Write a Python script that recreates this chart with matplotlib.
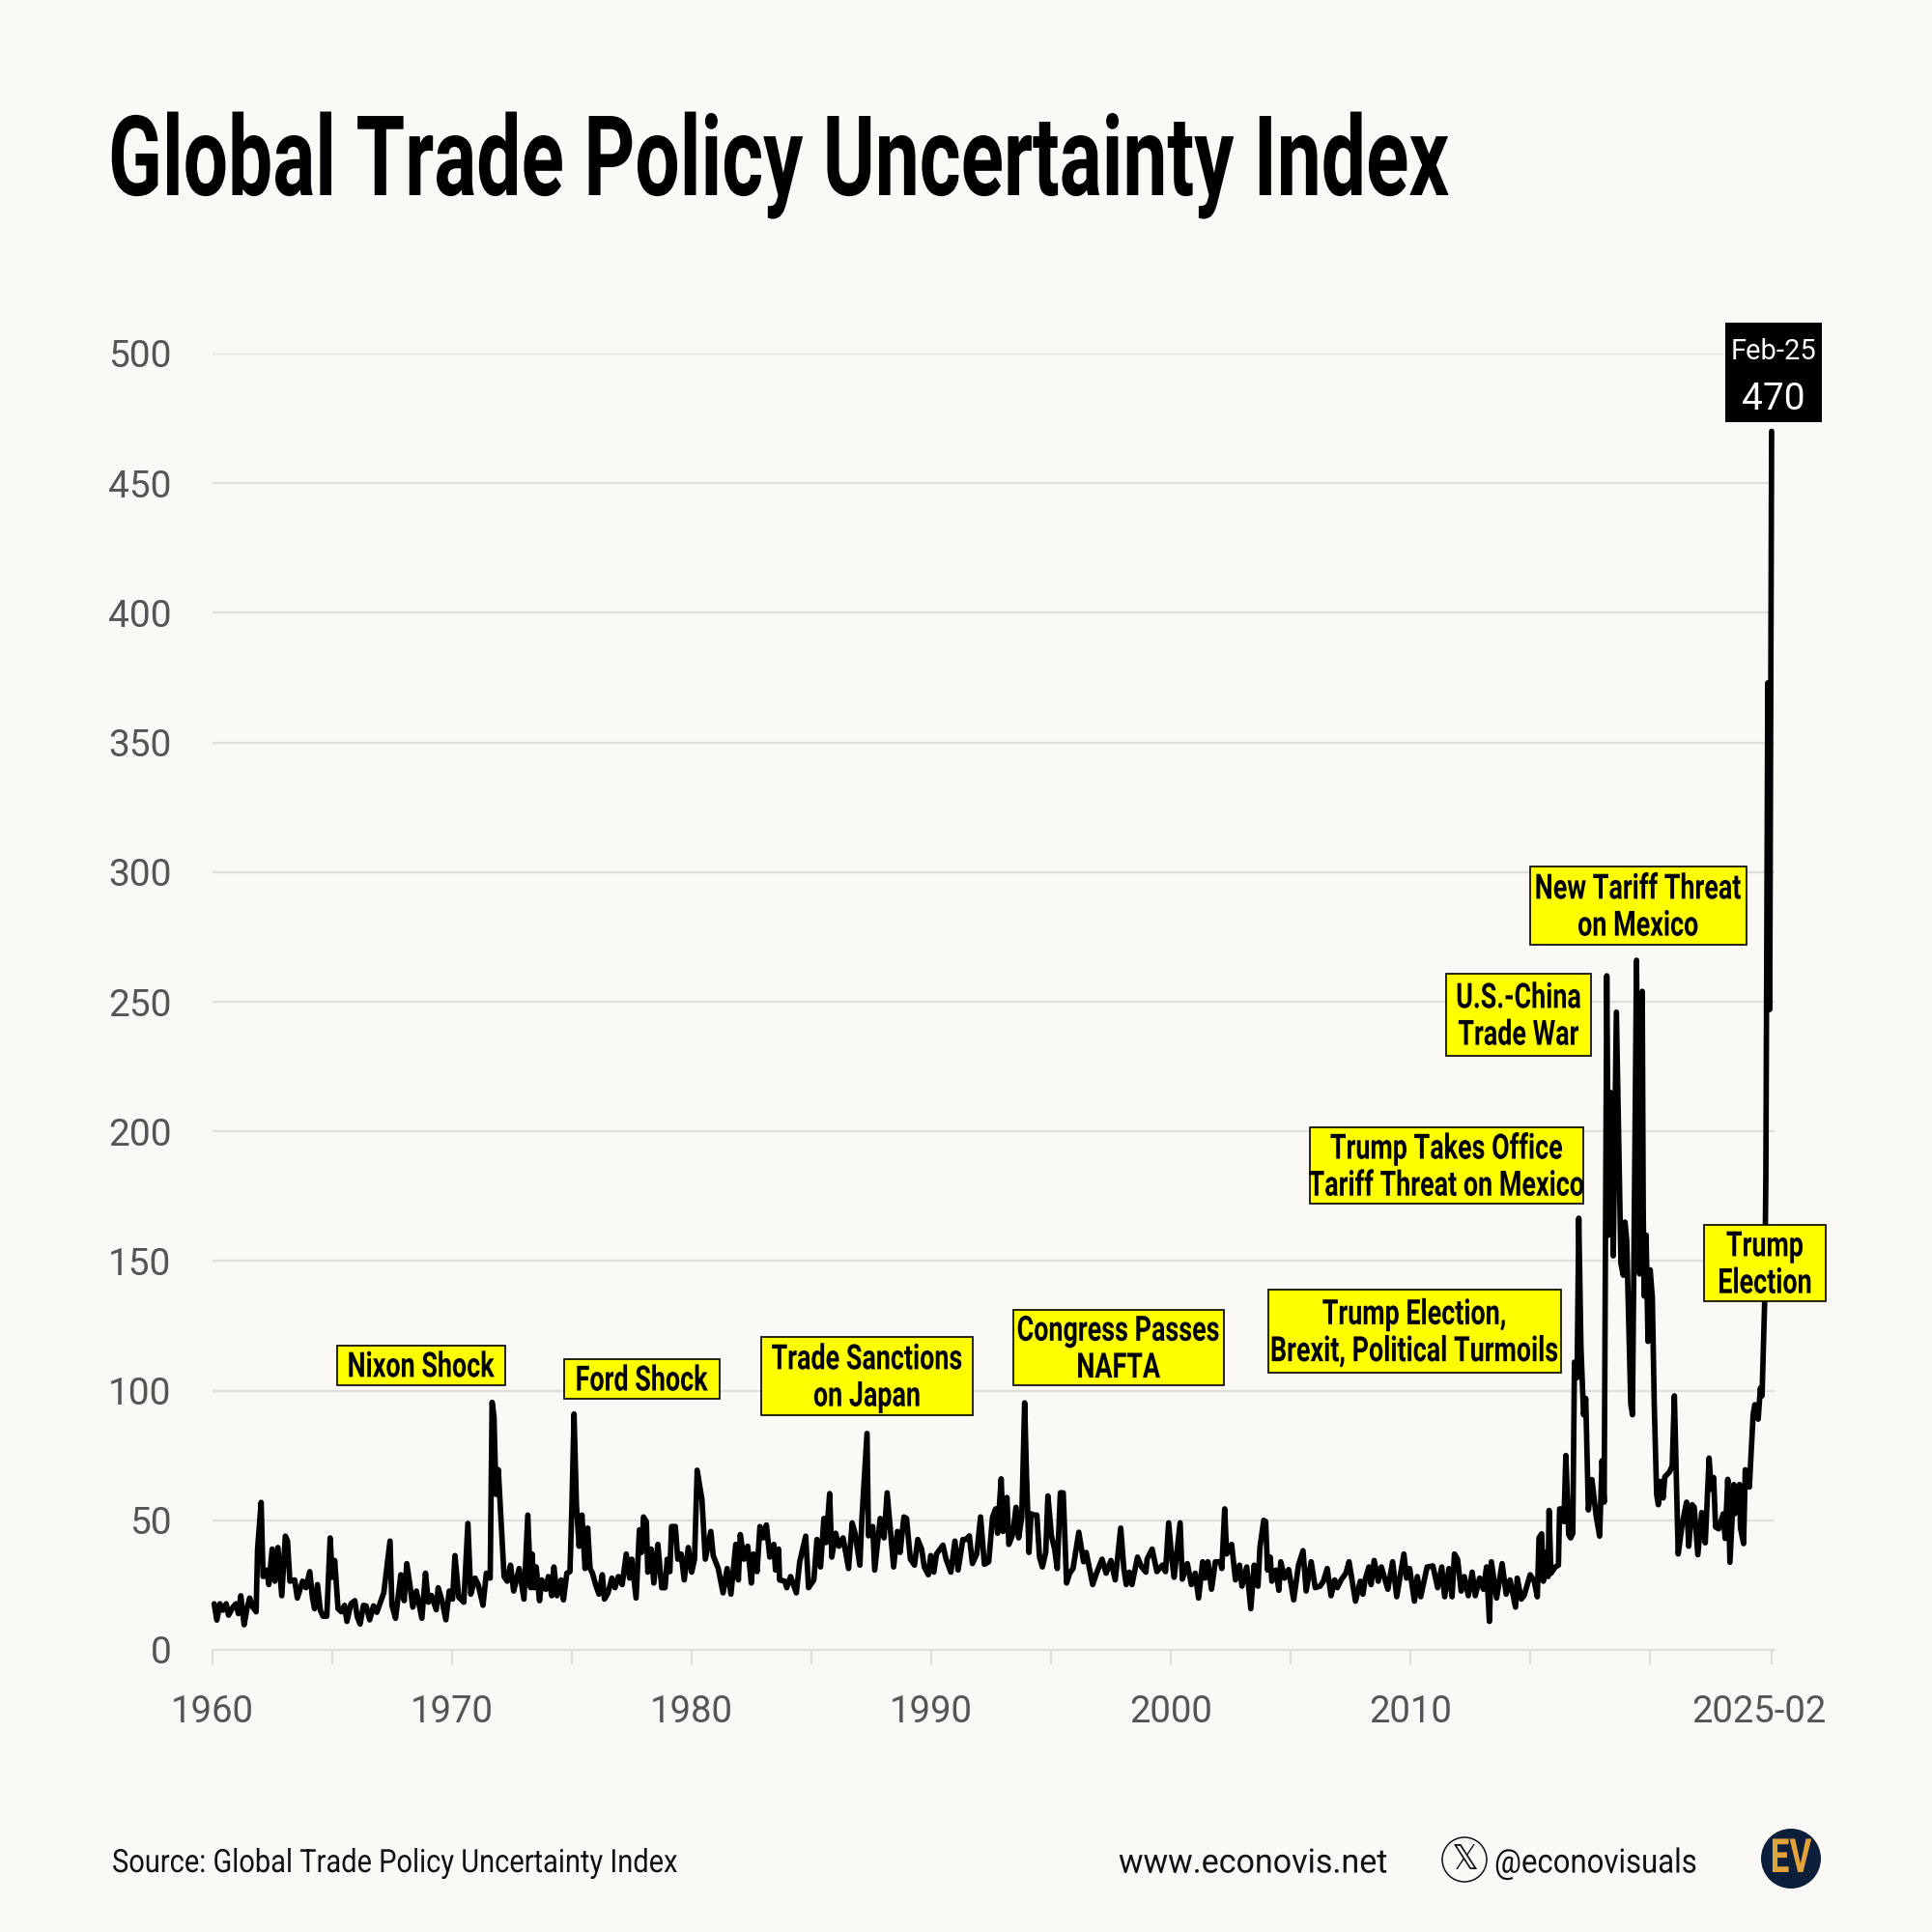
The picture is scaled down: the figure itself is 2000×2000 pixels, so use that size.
import numpy as np
import matplotlib
matplotlib.use("Agg")
import matplotlib.pyplot as plt
from matplotlib.patches import Rectangle, Circle
from matplotlib.patheffects import AbstractPathEffect
from matplotlib.transforms import Affine2D, ScaledTranslation

TITLE = "Global Trade Policy Uncertainty Index"
SOURCE = "Source: Global Trade Policy Uncertainty Index"

y_1960s = [1960.07,1960.18,1960.31,1960.43,1960.57,1960.67,1960.85,1960.98,1961.08,1961.18,1961.32,1961.44,1961.55,1961.68,1961.82,1961.88,1962.03,1962.11,1962.26,1962.35,1962.49,1962.60,1962.73,1962.89,1963.04,1963.13,1963.23,1963.43,1963.54,1963.76,1963.90,1964.06,1964.17,1964.26,1964.38,1964.50,1964.61,1964.77,1964.91,1965.00,1965.10,1965.24,1965.38,1965.51,1965.61,1965.78,1965.94,1966.04,1966.16,1966.30,1966.41,1966.56,1966.72,1966.86,1967.15,1967.41,1967.49,1967.64,1967.86,1968.00,1968.11,1968.24,1968.36,1968.51,1968.74,1968.89,1969.01,1969.14,1969.34,1969.42,1969.58,1969.74,1969.88]
v_1960s = [17.8,11.5,17.8,15.3,17.8,13.4,16.5,17.8,14,20.9,9.7,16,20,16.5,14.7,38.9,56.9,28.3,30.8,25.2,38.9,26.5,39.5,20.9,43.9,42,26.5,27,20,26.5,24,30.2,20.2,15.9,25.2,15.3,13,13,43.2,28,34.5,15.9,14.7,17.2,11,17.8,19,12.8,10,17.2,17,11.6,17,14.5,22.1,42,17.2,12.2,29,19,33.3,25,16.5,22.7,12.2,29.6,18.4,21,15.5,24,19,11.6,22.7]

y_1970s = [1970.02,1970.12,1970.28,1970.49,1970.66,1970.78,1970.96,1971.09,1971.29,1971.43,1971.59,1971.67,1971.75,1971.83,1971.93,1972.17,1972.30,1972.44,1972.57,1972.80,1973.00,1973.16,1973.28,1973.34,1973.42,1973.51,1973.65,1973.74,1973.91,1974.02,1974.16,1974.25,1974.38,1974.55,1974.65,1974.79,1974.92,1975.00,1975.09,1975.19,1975.30,1975.42,1975.55,1975.66,1975.76,1975.86,1975.99,1976.13,1976.27,1976.36,1976.51,1976.67,1976.80,1976.94,1977.10,1977.27,1977.41,1977.50,1977.68,1977.82,1977.91,1977.99,1978.11,1978.17,1978.31,1978.42,1978.59,1978.75,1978.89,1978.98,1979.09,1979.16,1979.32,1979.42,1979.56,1979.69,1979.86]
v_1970s = [19.6,36.4,20.3,18.4,48.8,21.5,27.7,25.2,17.2,29.6,27.7,95.5,90,60,69.5,28.3,26.5,32.7,22.7,31.4,19.6,52,24,37,24,32,19,27,23.4,28.3,20.9,32,20.9,27,19.3,29.6,30.2,55,91,56,40,52,31.4,47,31.4,29.6,25.2,21.5,29,19.6,22,27.7,24,28.3,25.2,37,27.7,35,20,46.3,37.6,51.3,49.5,30,38.9,25.8,40.7,24,24,35,30.2,47.6,47.6,35,37,27,39.5]

y_1980s = [1980.00,1980.12,1980.23,1980.43,1980.57,1980.80,1980.90,1981.11,1981.31,1981.48,1981.64,1981.84,1981.95,1982.03,1982.18,1982.34,1982.49,1982.58,1982.73,1982.85,1982.99,1983.12,1983.26,1983.43,1983.50,1983.63,1983.67,1983.89,1983.97,1984.13,1984.37,1984.51,1984.76,1984.88,1985.10,1985.23,1985.38,1985.52,1985.61,1985.76,1985.85,1986.01,1986.15,1986.32,1986.55,1986.70,1986.82,1987.02,1987.11,1987.32,1987.38,1987.56,1987.64,1987.87,1988.03,1988.16,1988.43,1988.59,1988.70,1988.86,1988.97,1989.13,1989.30,1989.44,1989.60,1989.71,1989.88,1989.98]
v_1980s = [30,35,69.3,58,35,45.7,36.4,31.4,22,31.4,21.5,40.7,27,44.5,35,40,25.8,37,30.2,47.6,43.2,48.2,35.8,40.7,30.8,38.9,27,26.5,24,28.3,22,34,43.9,24,27,42.6,32,50.7,41.4,60.3,35.8,45,40,43.2,31.4,49,45,32.7,51.3,83.5,44,47.6,30.8,50.7,43.2,60.6,32,45.7,37.6,51.3,50.7,35,32.7,42.6,38.9,32,29,36.4]

y_1990s = [1990.11,1990.22,1990.49,1990.62,1990.82,1990.99,1991.12,1991.32,1991.45,1991.59,1991.72,1991.90,1992.06,1992.22,1992.40,1992.56,1992.69,1992.77,1992.92,1993.00,1993.16,1993.24,1993.40,1993.54,1993.65,1993.78,1993.90,1993.97,1994.08,1994.17,1994.31,1994.41,1994.52,1994.64,1994.78,1994.87,1995.02,1995.15,1995.26,1995.39,1995.51,1995.65,1995.78,1995.92,1996.16,1996.36,1996.47,1996.74,1996.90,1997.13,1997.30,1997.50,1997.68,1997.91,1998.04,1998.14,1998.27,1998.38,1998.61,1998.78,1998.96,1999.01,1999.22,1999.42,1999.65,1999.78,1999.91]
v_1990s = [30,37,40.4,35,30,42,30.8,42.6,42.6,44,33.3,37,51.3,33,34,51.3,54.4,45,66,45.7,58.8,40.7,44.5,55,43.2,51.3,95.3,70,37.6,52.5,52,52,35.8,32,37.6,59.4,43.9,38.9,31.4,60.6,60.6,25.8,29.6,31.4,45.4,34,37.6,25.2,29.6,35,29.6,34.5,27,47,31.4,25.2,30,25.2,35.8,32,30,35,38.9,30.2,32.7,30.2,49]

y_2000s = [2000.05,2000.14,2000.39,2000.48,2000.69,2000.86,2001.02,2001.16,2001.33,2001.43,2001.55,2001.70,2001.86,2002.07,2002.13,2002.25,2002.33,2002.54,2002.70,2002.87,2002.97,2003.17,2003.34,2003.48,2003.64,2003.72,2003.88,2003.96,2004.04,2004.15,2004.22,2004.39,2004.51,2004.59,2004.75,2004.92,2005.13,2005.33,2005.52,2005.65,2005.86,2006.03,2006.23,2006.37,2006.53,2006.69,2006.84,2006.95,2007.11,2007.31,2007.44,2007.71,2007.91,2008.02,2008.11,2008.27,2008.36,2008.49,2008.66,2008.79,2009.06,2009.26,2009.43,2009.73,2009.84,2009.97]
v_2000s = [34.5,28,49,27.3,33.3,25.2,29.6,20,34,27.7,34,23.4,34,34,31.4,54.4,37,40.7,27,32.7,24.6,32,15.9,32.7,24.6,39.5,50,49.5,30.8,35.8,26.5,30.8,23,34,27.7,31,19.3,32.7,38.3,22.7,34,24,24.6,26.5,31.4,20.9,27,24,27,29.6,34,18.8,26.5,21.5,27,32,25.2,34.5,26.5,32,23.4,34,20.5,37,27.7,31.4]

y_2010s = [2010.17,2010.29,2010.43,2010.70,2010.94,2011.14,2011.31,2011.43,2011.61,2011.74,2011.84,2011.97,2012.12,2012.25,2012.42,2012.58,2012.71,2012.89,2013.05,2013.18,2013.30,2013.38,2013.60,2013.83,2014.00,2014.16,2014.39,2014.46,2014.63,2014.75,2015.00,2015.17,2015.30,2015.37,2015.48,2015.55,2015.64,2015.75,2015.79,2015.87,2016.05,2016.18,2016.23,2016.30,2016.41,2016.49,2016.61,2016.69,2016.78,2016.85,2016.96,2017.03,2017.12,2017.23,2017.32,2017.43,2017.58,2017.75,2017.90,2018.00,2018.09,2018.20,2018.28,2018.36,2018.47,2018.60,2018.79,2018.89,2018.96,2019.03,2019.20,2019.27,2019.37,2019.44,2019.50,2019.57,2019.62,2019.68,2019.72,2019.76,2019.84,2019.92]
v_2010s = [18.8,28.3,20.5,32,32.4,24,32,20.5,31.4,20.5,37,35,22.7,28.3,20.9,30,20.9,27.7,23.4,32,11,34,20,33.3,21.5,27,16.5,27.7,19.6,21,29,26.5,20.5,43.2,44.8,26.5,37.6,28.3,53.8,29.6,32,32.7,54.4,54.4,49.5,75,44.5,43.2,45,111,105,166.5,117,90.7,97,54,65.7,52,43.9,73,57,260,160,215,152,246,149,144.5,165,158,95,90.7,190,266,190,145,220,254,170,136.5,160,119]

y_2020s = [2020.01,2020.10,2020.18,2020.28,2020.35,2020.45,2020.55,2020.62,2020.82,2020.93,2021.02,2021.18,2021.35,2021.53,2021.62,2021.76,2021.85,2022.00,2022.16,2022.31,2022.47,2022.56,2022.66,2022.74,2022.87,2023.06,2023.14,2023.25,2023.34,2023.50,2023.54,2023.74,2023.78,2023.91,2023.98,2024.15,2024.31,2024.38,2024.52,2024.61,2024.68,2024.79,2024.84,2024.92,2025.00,2025.08]
v_2020s = [146.6,136,95,60,56,65,58.6,66.7,68.7,71,98,37,48.7,57,40,56,55,36.7,53,41.3,74,62,66.5,47.4,46.7,52.5,43,65.8,33.8,63.8,52.5,63.8,47,41,69.5,62.8,91,94.6,89,101,98,134.6,184,373,247,470]

years = y_1960s + y_1970s + y_1980s + y_1990s + y_2000s + y_2010s + y_2020s
values = v_1960s + v_1970s + v_1980s + v_1990s + v_2000s + v_2010s + v_2020s

y_ticks = [0, 50, 100, 150, 200, 250, 300, 350, 400, 450, 500]
x_ticks = [1960, 1965, 1970, 1975, 1980, 1985, 1990, 1995, 2000, 2005, 2010, 2015, 2020, 2025.08]
x_tick_labels = ["1960", "", "1970", "", "1980", "", "1990", "", "2000", "", "2010", "", "", "2025-02"]

notes = [
    ("Nixon Shock", 348.5, 522.6, 1392.7, 1434),
    ("Ford Shock", 583.5, 744.6, 1406.7, 1448.3),
    ("Trade Sanctions\non Japan", 788.4, 1006.6, 1384, 1465),
    ("Congress Passes\nNAFTA", 1048.7, 1266.8, 1356, 1434),
    ("Trump Election,\nBrexit, Political Turmoils", 1312.5, 1615.7, 1335, 1421),
    ("Trump Takes Office\nTariff Threat on Mexico", 1356, 1639, 1167, 1246),
    ("U.S.-China\nTrade War", 1497, 1647, 1008, 1093),
    ("New Tariff Threat\non Mexico", 1584, 1807.5, 897, 978),
    ("Trump\nElection", 1764, 1890, 1268, 1347),
]

BG = "#FAF9F6"
GRID = "#DEDEDA"
TICKC = "#555555"
FONT = "Roboto"


class HStretch(AbstractPathEffect):
    """Condense a text's glyphs horizontally about a fixed x position (pixels)."""
    def __init__(self, sx, x0):
        super().__init__()
        self.sx, self.x0 = sx, x0

    def draw_path(self, renderer, gc, tpath, affine, rgbFace=None):
        stretch = Affine2D().translate(-self.x0, 0).scale(self.sx, 1).translate(self.x0, 0)
        renderer.draw_path(gc, tpath, affine + stretch, rgbFace)


fig = plt.figure(figsize=(20, 20), dpi=100, facecolor=BG)


def fx(x):
    return x / 2000


def fy(y):
    return 1 - y / 2000


ax = fig.add_axes([fx(220), fy(1708), fx(1837) - fx(220), fy(366) - fy(1708)], facecolor=BG)
ax.set_xlim(1960, 1960 + (1837 - 220) / 24.8)
ax.set_ylim(0, 500)
ax.plot(years, values, color="black", lw=4.1, solid_joinstyle="round", solid_capstyle="round",
        clip_on=False, zorder=3)

ax.set_yticks(y_ticks)
ax.set_yticklabels([str(t) for t in y_ticks], fontfamily=FONT, fontsize=28, color=TICKC)
ax.set_xticks(x_ticks)
ax.set_xticklabels(x_tick_labels, fontfamily=FONT, fontsize=27.5, color=TICKC)
ax.tick_params(axis="y", length=0, pad=30.5)
ax.tick_params(axis="x", length=10.8, width=1.5, color=GRID, pad=22)
ax.grid(axis="y", color=GRID, lw=1.6, zorder=0)
ax.set_axisbelow(True)
for s in ["top", "left", "right"]:
    ax.spines[s].set_visible(False)
ax.spines["bottom"].set_color(GRID)
ax.spines["bottom"].set_linewidth(1.6)
last = ax.get_xticklabels()[-1]
last.set_transform(last.get_transform() + ScaledTranslation(-0.13, 0, fig.dpi_scale_trans))

t = fig.text(fx(112), fy(202), TITLE, fontfamily=FONT, fontweight="bold", fontsize=83,
             color="black", ha="left", va="baseline")
t.set_path_effects([HStretch(0.712, 112)])

for label, x0, x1, y0, y1 in notes:
    fig.add_artist(Rectangle((fx(x0), fy(y1)), fx(x1) - fx(x0), fy(y0) - fy(y1),
                             transform=fig.transFigure, facecolor="#FFFF00", edgecolor="black",
                             lw=1.2, zorder=5))
    cx = (x0 + x1) / 2
    n = fig.text(fx(cx), fy((y0 + y1) / 2 + 2), label, fontfamily=FONT, fontweight="bold",
                 fontsize=26, color="black", ha="center", va="center", linespacing=1.08, zorder=6)
    n.set_path_effects([HStretch(0.745, cx)])

fig.add_artist(Rectangle((fx(1786), fy(437)), fx(100), fy(334) - fy(437), transform=fig.transFigure,
                         facecolor="black", edgecolor="none", zorder=5))
fig.text(fx(1836), fy(364), "Feb-25", fontfamily=FONT, fontsize=21, color="white",
         ha="center", va="center", zorder=6)
fig.text(fx(1836), fy(413), "470", fontfamily=FONT, fontsize=28, color="white",
         ha="center", va="center", zorder=6)

src = fig.text(fx(116), fy(1929), SOURCE, fontfamily=FONT, fontsize=24, color="#111111", ha="left", va="center")
src.set_path_effects([HStretch(0.871, 116)])
web = fig.text(fx(1158), fy(1929), "www.econovis.net", fontfamily=FONT, fontsize=25, color="#111111", ha="left", va="center")
web.set_path_effects([HStretch(0.98, 1158)])
hdl = fig.text(fx(1547), fy(1929), "@econovisuals", fontfamily=FONT, fontsize=25, color="#111111", ha="left", va="center")
hdl.set_path_effects([HStretch(0.896, 1547)])

# overlay axes in image pixels, for the round badges
ov = fig.add_axes([0, 0, 1, 1], facecolor="none")
ov.set_xlim(0, 2000)
ov.set_ylim(2000, 0)
ov.axis("off")
ov.add_patch(Circle((1516, 1925), 23, facecolor="none", edgecolor="#111111", lw=1.1))
ov.text(1516, 1925, "\U0001D54F", fontfamily="DejaVu Sans", fontsize=25, color="#111111", ha="center", va="center")
ov.add_patch(Circle((1854, 1924), 31, facecolor="#0B1F3A", edgecolor="none"))
ev = ov.text(1854, 1925, "EV", fontfamily=FONT, fontweight="bold", fontsize=35, color="#E3A33A", ha="center", va="center")
ev.set_path_effects([HStretch(0.72, 1854)])

fig.savefig("out.png", dpi=100, facecolor=BG)
